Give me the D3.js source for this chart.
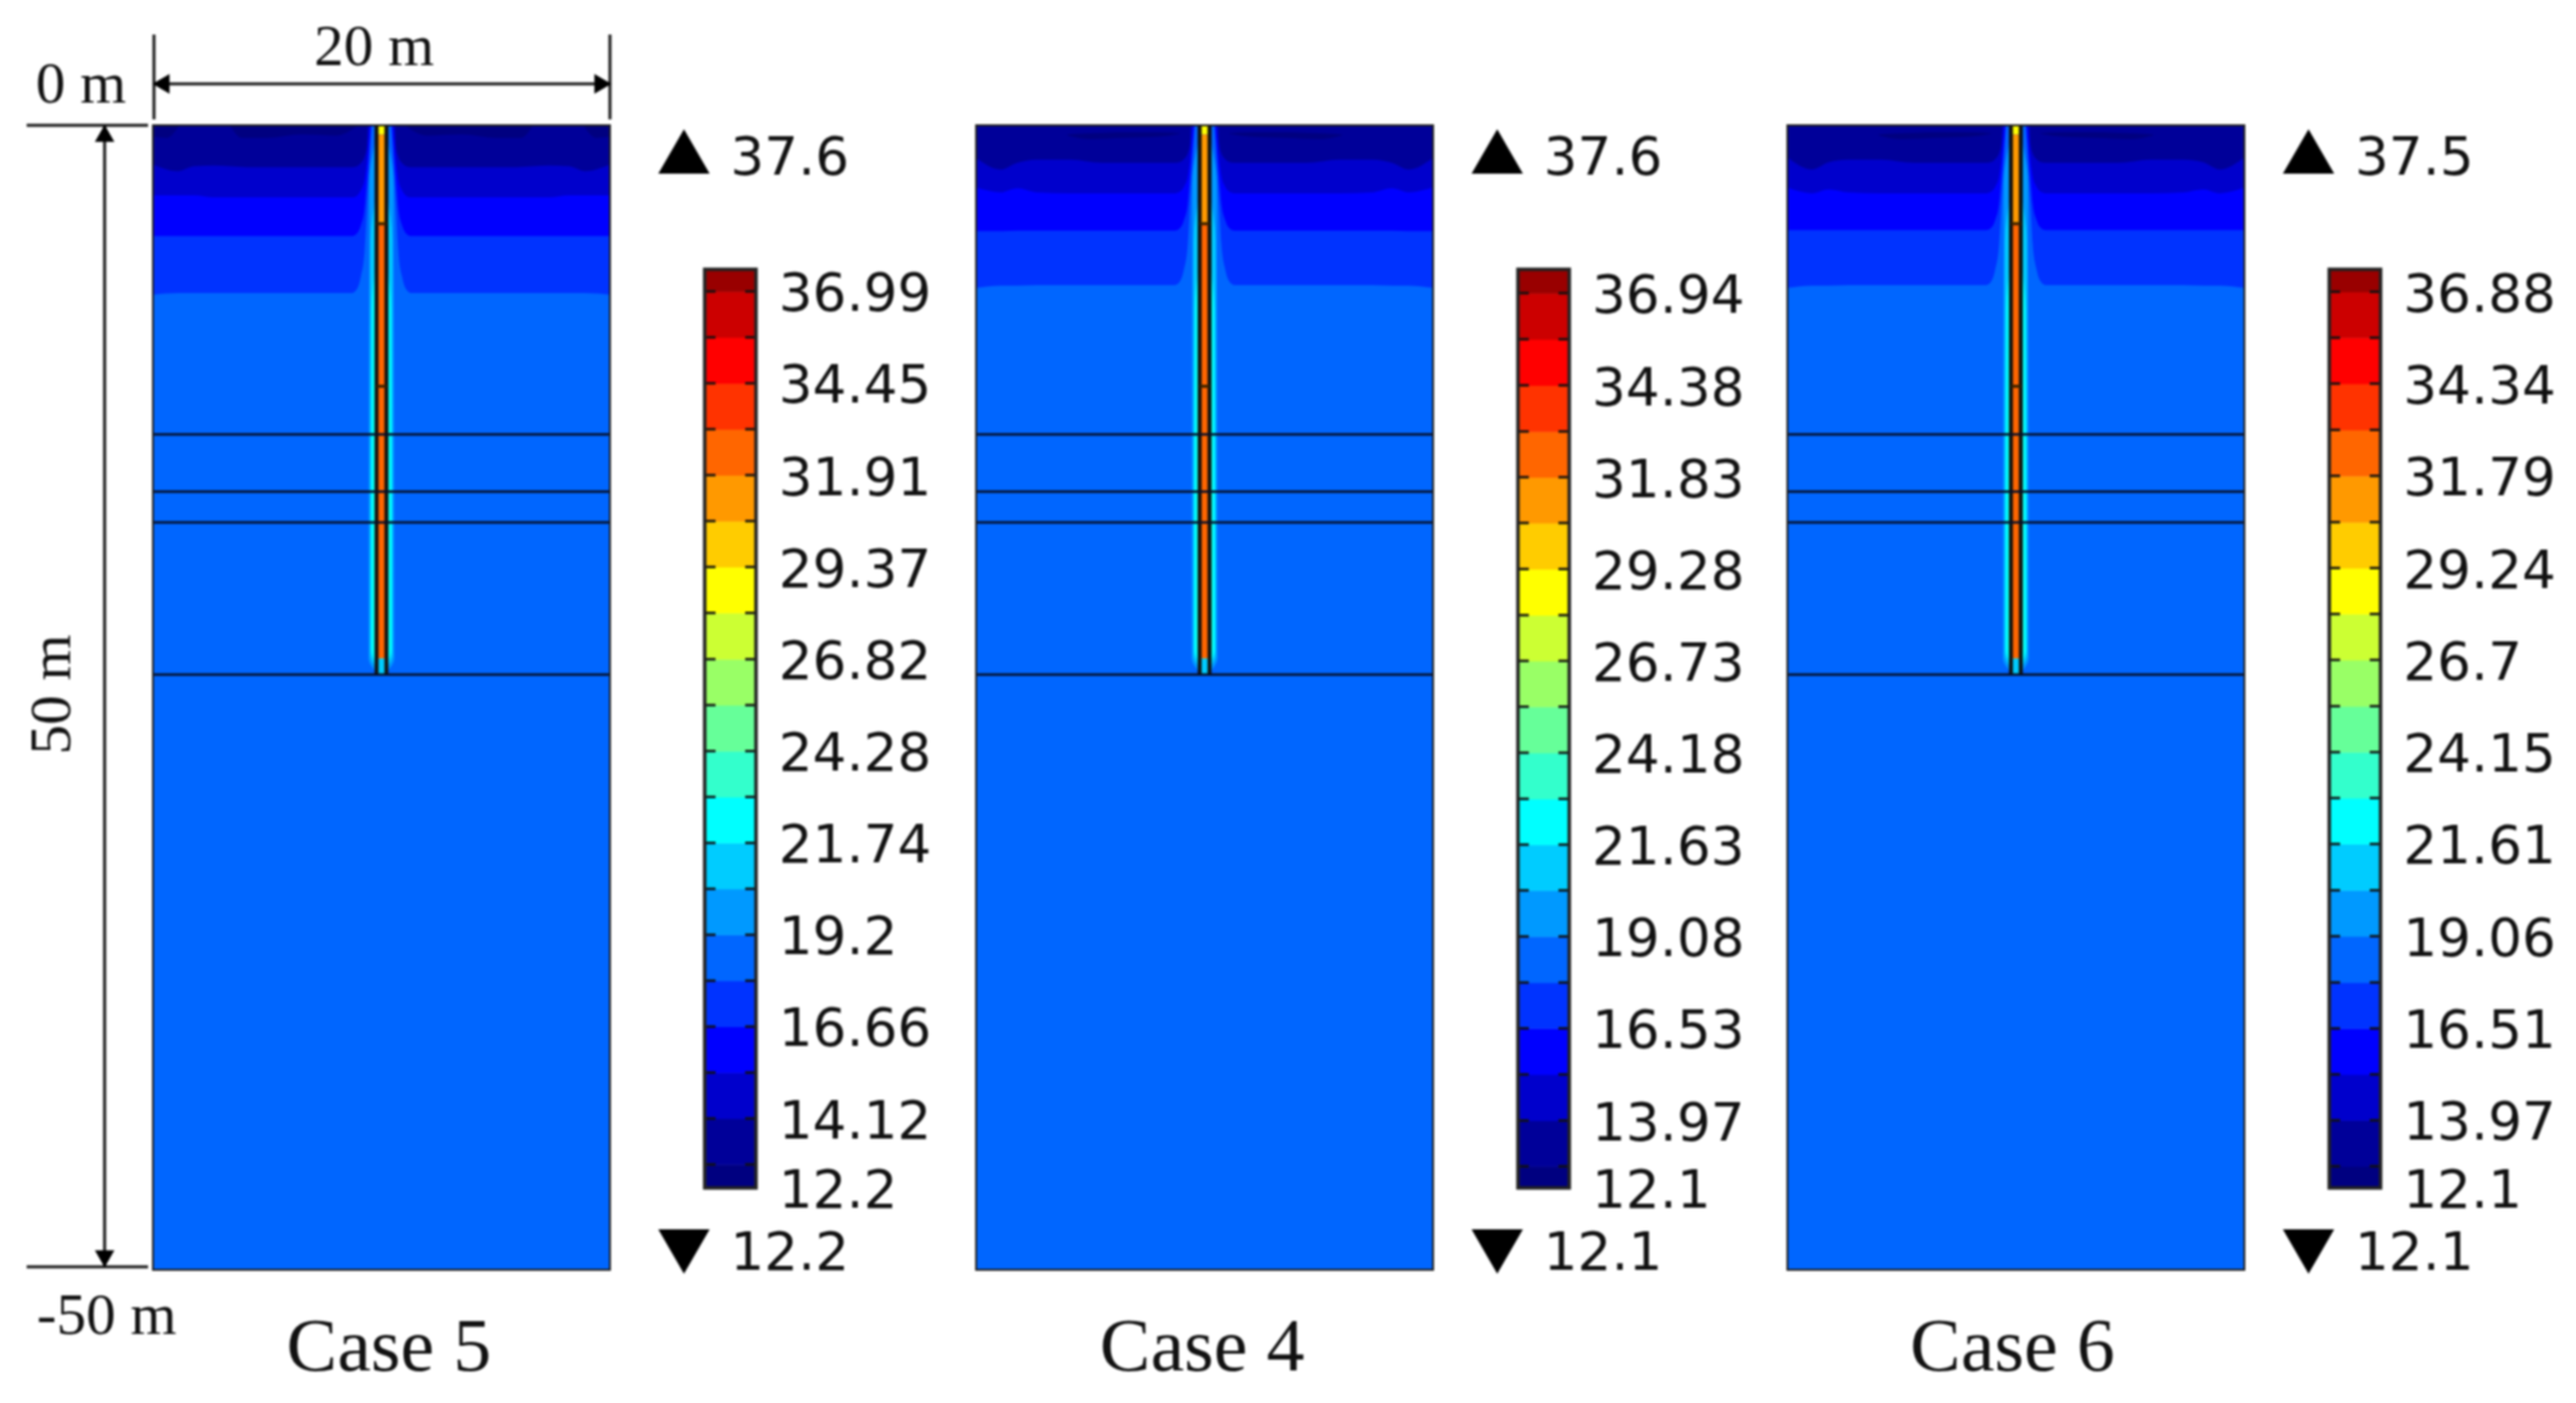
<!DOCTYPE html>
<html>
<head>
<meta charset="utf-8">
<script src="https://cdn.jsdelivr.net/npm/d3@7"></script>
<style>
  html, body { margin: 0; background: #fff; }
  svg { display: block; filter: blur(0.8px); }
</style>
</head>
<body>
<script>
const bandColors = ['#000080', '#000099', '#0000cc', '#0000ff', '#0033ff', '#0066ff', '#0099ff', '#00ccff',
  '#00ffff', '#33ffcc', '#66ff99', '#99ff66', '#ccff33', '#ffff00', '#ffcc00', '#ff9900', '#ff6600', '#ff3300',
  '#ff0000', '#cc0000', '#990000']

const caseNames = ['Case 5', 'Case 4', 'Case 6']
const tempMax = [37.6, 37.6, 37.5]
const tempMin = [12.2, 12.1, 12.1]

// legend levels, low to high (every second one carries a label)
const levels5 = [12.85, 14.12, 15.39, 16.66, 17.93, 19.2, 20.47, 21.74, 23.01, 24.28, 25.55, 26.82, 28.1, 29.37, 30.64, 31.91, 33.18, 34.45, 35.72, 36.99]
const levels4 = [12.7, 13.97, 15.25, 16.53, 17.8, 19.08, 20.36, 21.63, 22.9, 24.18, 25.46, 26.73, 28.0, 29.28, 30.56, 31.83, 33.1, 34.38, 35.66, 36.94]
const levels6 = [12.7, 13.97, 15.24, 16.51, 17.78, 19.06, 20.33, 21.61, 22.88, 24.15, 25.42, 26.7, 27.97, 29.24, 30.51, 31.79, 33.06, 34.34, 35.61, 36.88]
const levelsByCase = [levels5, levels4, levels6]

// depth of the far field contours (m), sampled across the left half
const contourX = [0, 1.08, 1.8, 2.66, 4.1, 5.54, 8.7]
const contourTemps = [17.3, 16, 14.8, 13.5]
const contours5 = [
  [7.4, 7.33, 7.33, 7.33, 7.33, 7.33, 7.33],
  [4.84, 4.84, 4.84, 4.84, 4.84, 4.84, 4.84],
  [3.06, 3.06, 3.06, 3.15, 3.15, 3.15, 3.15],
  [1.71, 2.0, 1.79, 1.76, 1.83, 1.83, 1.83]
]
const contours4 = [
  [7.1, 7.0, 7.0, 6.98, 6.98, 6.98, 6.98],
  [4.62, 4.62, 4.6, 4.6, 4.6, 4.6, 4.6],
  [2.72, 2.93, 2.75, 2.93, 2.97, 2.97, 2.97],
  [1.42, 1.93, 1.64, 1.5, 1.5, 1.64, 1.64]
]
const contours6 = [
  [7.1, 7.0, 7.0, 6.98, 6.98, 6.98, 6.98],
  [4.58, 4.58, 4.58, 4.58, 4.58, 4.58, 4.58],
  [2.72, 2.97, 2.8, 2.93, 2.97, 2.97, 2.97],
  [1.4, 1.93, 1.62, 1.5, 1.5, 1.64, 1.64]
]
const contoursByCase = [contours5, contours4, contours6]

// how the contours bend up along the pile
const funnelRadius = [1.05, 0.9, 0.74, 0.64]
const funnelRise = [0.03, 0.1, 0.25, 0.5]
const funnelTopRadius = [0.42, 0.46, 0.52, 0.6]

// coldest patches just under the surface: [x, top depth, bottom depth]
const patchTemp = 12.5
const patches5 = [
  [[0, 0, 0.5], [0.6, 0, 0.55], [1.1, 0, 0.1]],
  [[3.4, 0, 0.05], [3.9, 0, 0.55], [5, 0, 0.55], [6.5, 0, 0.4], [8, 0, 0.45], [8.9, 0, 0.05]]
]
const patches4 = [[[4.0, 0.4, 0.45], [5, 0.35, 0.6], [6.5, 0.3, 0.55], [8, 0.3, 0.5], [8.9, 0.35, 0.38]]]
const patches6 = [[[4.0, 0.4, 0.45], [5, 0.35, 0.6], [6.5, 0.3, 0.55], [8, 0.3, 0.5], [8.9, 0.35, 0.38]]]
const patchesByCase = [patches5, patches4, patches6]

// warm sleeve around the pile
const sleeveTemps = [19.8, 21, 22.3, 23.6, 25]
const sleeveRadius = [0.56, 0.5, 0.45, 0.33, 0.28]
const sleeveTop = [0.5, 3, 6, 8, 10]
const sleeveBottom = [23.9, 23.7, 23.5, 23.3, 23.1]

// pile segments, top and bottom depth (m) and temperature
const pileTops = [0, 0.4, 4.3, 23.3]
const pileBottoms = [0.4, 4.3, 23.3, 24]
const pileTemps = [29, 31, 32.5, 21]
const pileJoints = [4.3, 11.4]
const pileRadius = 0.216

const layerDepths = [13.5, 16, 17.35, 24]

const width = 2610
const height = 1422
const panelLeft = [155, 989, 1811]
const panelWidth = 463
const panelTop = 127
const panelBottom = 1287
const legendTop = 273
const legendBottom = 1204
const caseCenter = [394, 1218, 2039]
const legendShift = [0, -10, -10]

const serif = "'Liberation Serif', serif"
const sans = "'DejaVu Sans', sans-serif"

const svg = d3.select('body').append('svg')
  .attr('width', width)
  .attr('height', height)
  .attr('viewBox', [0, 0, width, height])

const yDepth = d3.scaleLinear().domain([0, 50]).range([panelTop, panelBottom])

caseNames.forEach((name, i) => {
  const x = d3.scaleLinear().domain([0, 20]).range([panelLeft[i], panelLeft[i] + panelWidth])
  const color = d3.scaleThreshold().domain(levelsByCase[i]).range(bandColors)
  const panel = svg.append('g')

  const clipId = 'clip' + i
  svg.append('clipPath').attr('id', clipId).append('rect')
    .attr('x', x(0)).attr('y', yDepth(0))
    .attr('width', x(20) - x(0)).attr('height', yDepth(50) - yDepth(0))
  const field = panel.append('g').attr('clip-path', `url(#${clipId})`)

  field.append('rect')
    .attr('x', x(0)).attr('y', yDepth(0))
    .attr('width', x(20) - x(0)).attr('height', yDepth(50) - yDepth(0))
    .attr('fill', color(18.5))

  const area = d3.area()
    .x((d) => x(d[0]))
    .y0((d) => yDepth(d[1]))
    .y1((d) => yDepth(d[2]))
    .curve(d3.curveMonotoneX)

  const mirrored = (pts) => pts.map((d) => [20 - d[0], d[1], d[2]]).reverse()

  contoursByCase[i].forEach((depths, k) => {
    const far = depths[depths.length - 1]
    const pts = contourX.map((cx, j) => [cx, 0, depths[j]])
      .concat(funnelRadius.map((r, j) => [10 - r, 0, far * (1 - funnelRise[j])]))
      .concat([[10 - funnelTopRadius[k], 0, 0]])
    ;[pts, mirrored(pts)].forEach((p) => {
      field.append('path').attr('d', area(p)).attr('fill', color(contourTemps[k]))
    })
  })

  patchesByCase[i].forEach((pts) => {
    ;[pts, mirrored(pts)].forEach((p) => {
      field.append('path').attr('d', area(p)).attr('fill', color(patchTemp))
    })
  })

  // sleeve columns taper off towards the surface
  const sleeveArea = d3.area()
    .y((d) => yDepth(d[0]))
    .x0((d) => x(10 - d[1]))
    .x1((d) => x(10 + d[1]))
    .curve(d3.curveMonotoneY)
  sleeveTemps.forEach((t, k) => {
    const pts = [
      [sleeveTop[k], pileRadius],
      [sleeveTop[k] + 2, sleeveRadius[k] - 0.03],
      [sleeveBottom[k] - 0.6, sleeveRadius[k]],
      [sleeveBottom[k], pileRadius]
    ]
    field.append('path').attr('d', sleeveArea(pts)).attr('fill', color(t))
  })

  pileTemps.forEach((t, k) => {
    field.append('rect')
      .attr('x', x(10 - pileRadius))
      .attr('y', yDepth(pileTops[k]))
      .attr('width', x(10 + pileRadius) - x(10 - pileRadius))
      .attr('height', yDepth(pileBottoms[k]) - yDepth(pileTops[k]))
      .attr('fill', color(t))
  })

  // pile walls and joints
  ;[10 - pileRadius, 10 + pileRadius].forEach((w) => {
    field.append('line')
      .attr('x1', x(w)).attr('x2', x(w))
      .attr('y1', yDepth(0)).attr('y2', yDepth(24))
      .attr('stroke', '#111').attr('stroke-width', 4)
  })
  pileJoints.forEach((d) => {
    field.append('line')
      .attr('x1', x(10 - pileRadius)).attr('x2', x(10 + pileRadius))
      .attr('y1', yDepth(d)).attr('y2', yDepth(d))
      .attr('stroke', '#3a2200').attr('stroke-width', 3)
  })

  layerDepths.forEach((d) => {
    field.append('line')
      .attr('x1', x(0)).attr('x2', x(20))
      .attr('y1', yDepth(d)).attr('y2', yDepth(d))
      .attr('stroke', '#06102a').attr('stroke-width', 2.5)
  })

  panel.append('rect')
    .attr('x', x(0)).attr('y', yDepth(0))
    .attr('width', x(20) - x(0)).attr('height', yDepth(50) - yDepth(0))
    .attr('fill', 'none').attr('stroke', '#222').attr('stroke-width', 2)

  // colour legend
  const shift = legendShift[i]
  const barLeft = 714 - 155 + panelLeft[i] + shift
  const barRight = barLeft + 52
  const yTemp = d3.scaleLinear().domain([tempMin[i], tempMax[i]]).range([legendBottom, legendTop])
  const edges = [tempMin[i], ...levelsByCase[i], tempMax[i]]

  d3.pairs(edges).forEach(([lo, hi]) => {
    panel.append('rect')
      .attr('x', barLeft).attr('y', yTemp(hi))
      .attr('width', barRight - barLeft).attr('height', yTemp(lo) - yTemp(hi) + 0.5)
      .attr('fill', color((lo + hi) / 2))
  })
  levelsByCase[i].forEach((v) => {
    ;[[barLeft, barLeft + 11], [barRight - 11, barRight]].forEach(([a, b]) => {
      panel.append('line')
        .attr('x1', a).attr('x2', b)
        .attr('y1', yTemp(v)).attr('y2', yTemp(v))
        .attr('stroke', '#111').attr('stroke-width', 2.5)
    })
  })
  panel.append('rect')
    .attr('x', barLeft).attr('y', legendTop)
    .attr('width', barRight - barLeft).attr('height', legendBottom - legendTop)
    .attr('fill', 'none').attr('stroke', '#222').attr('stroke-width', 3.5)

  const labelled = levelsByCase[i].filter((_, k) => k % 2 === 1)
  const axis = d3.axisRight(yTemp)
    .tickValues([tempMin[i], ...labelled])
    .tickFormat((d) => String(d))
    .tickSize(0)
    .tickPadding(23)
  const axisG = panel.append('g')
    .attr('transform', `translate(${barRight},0)`)
    .call(axis)
  axisG.select('.domain').remove()
  axisG.selectAll('text')
    .attr('dy', '0.36em')
    .attr('font-family', sans)
    .attr('font-size', 54)
    .attr('fill', '#111')

  // max and min markers
  const markerX = 693 - 155 + panelLeft[i] + shift
  const tri = d3.symbol().type(d3.symbolTriangle).size(1171)
  panel.append('path').attr('d', tri()).attr('transform', `translate(${markerX},161)`).attr('fill', '#000')
  panel.append('path').attr('d', tri()).attr('transform', `translate(${markerX},1261) rotate(180)`).attr('fill', '#000')
  panel.append('text').attr('x', markerX + 47).attr('y', 177).text(tempMax[i])
    .attr('font-family', sans).attr('font-size', 54).attr('fill', '#111')
  panel.append('text').attr('x', markerX + 47).attr('y', 1287).text(tempMin[i])
    .attr('font-family', sans).attr('font-size', 54).attr('fill', '#111')

  panel.append('text')
    .attr('x', caseCenter[i]).attr('y', 1389)
    .attr('text-anchor', 'middle')
    .attr('font-family', serif).attr('font-size', 77).attr('fill', '#111')
    .text(name)
})

// dimension lines on the first panel
const dim = svg.append('g').attr('stroke', '#1a1a1a').attr('stroke-width', 3)
const head = d3.symbol().type(d3.symbolTriangle).size(170)
const x0 = panelLeft[0]
const x1 = panelLeft[0] + panelWidth
dim.append('line').attr('x1', x0 + 1).attr('x2', x0 + 1).attr('y1', 35).attr('y2', 121)
dim.append('line').attr('x1', x1).attr('x2', x1).attr('y1', 35).attr('y2', 121)
dim.append('line').attr('x1', x0 + 1).attr('x2', x1).attr('y1', 85).attr('y2', 85)
dim.append('line').attr('x1', 27).attr('x2', 150).attr('y1', panelTop).attr('y2', panelTop)
dim.append('line').attr('x1', 27).attr('x2', 150).attr('y1', 1284).attr('y2', 1284)
dim.append('line').attr('x1', 106).attr('x2', 106).attr('y1', panelTop).attr('y2', 1284)
;[
  [x0 + 11, 85, -90],
  [x1 - 10, 85, 90],
  [106, panelTop + 11, 0],
  [106, 1273, 180]
].forEach(([hx, hy, rot]) => {
  svg.append('path').attr('d', head())
    .attr('transform', `translate(${hx},${hy}) rotate(${rot})`)
    .attr('fill', '#000')
})

const dimLabels = ['20 m', '0 m', '-50 m', '50 m']
const dimSpots = [[379, 66, 0], [82, 104, 0], [108, 1352, 0], [71, 704, -90]]
dimLabels.forEach((t, k) => {
  const [tx, ty, rot] = dimSpots[k]
  svg.append('text')
    .attr('transform', `translate(${tx},${ty}) rotate(${rot})`)
    .attr('text-anchor', 'middle')
    .attr('font-family', serif).attr('font-size', 60).attr('fill', '#111')
    .text(t)
})
</script>
</body>
</html>
